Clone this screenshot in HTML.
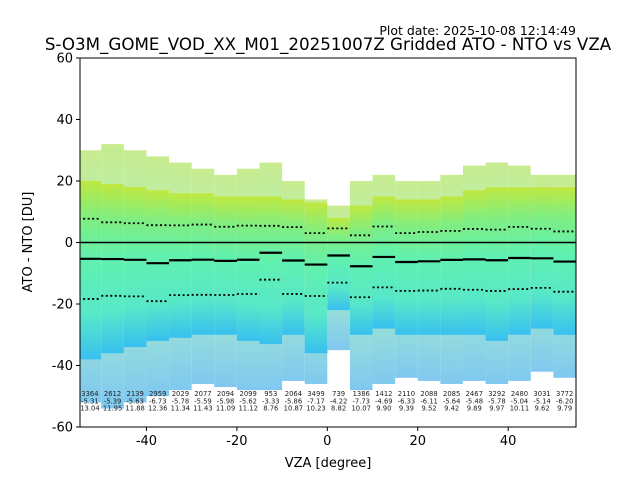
<!DOCTYPE html>
<html><head><meta charset="utf-8"><style>
body{margin:0;background:#fff;font-family:"Liberation Sans","DejaVu Sans",sans-serif}
svg text{font-family:"DejaVu Sans","Liberation Sans",sans-serif}
</style></head><body>
<svg id="chart" width="640" height="480" xmlns="http://www.w3.org/2000/svg">
<defs>
<linearGradient id="cloud" x1="0" y1="0" x2="0" y2="1">
<stop offset="0" stop-color="#c0e840"/><stop offset="0.2" stop-color="#80ee80"/><stop offset="0.45" stop-color="#60f0b0"/><stop offset="0.75" stop-color="#58e8c8"/><stop offset="1" stop-color="#38c0f0"/>
</linearGradient>
<linearGradient id="sparse" x1="0" y1="0" x2="0" y2="1">
<stop offset="0" stop-color="#c8ec90"/><stop offset="0.5" stop-color="#a8f0c8"/><stop offset="1" stop-color="#80c8f0"/>
</linearGradient>
</defs>
<text x="576" y="35" font-size="12.5" text-anchor="end">Plot date: 2025-10-08 12:14:49</text>
<text x="328" y="50" font-size="16.7" text-anchor="middle">S-O3M_GOME_VOD_XX_M01_20251007Z Gridded ATO - NTO vs VZA</text>
<g id="plot"></g>
<text x="328" y="467" font-size="13" text-anchor="middle">VZA [degree]</text>
<text transform="translate(32,242) rotate(-90)" font-size="13" text-anchor="middle">ATO - NTO [DU]</text>
</svg>
<script>
const binStarts=[-55,-50,-45,-40,-35,-30,-25,-20,-15,-10,-5,0,5,10,15,20,25,30,35,40,45,50];
const counts=[3364,2612,2139,2959,2029,2077,2094,2099,953,2064,3499,739,1386,1412,2110,2088,2085,2467,3292,2480,3031,3772];
const means=[-5.31,-5.39,-5.63,-6.73,-5.78,-5.59,-5.98,-5.62,-3.33,-5.86,-7.17,-4.22,-7.73,-4.69,-6.33,-6.11,-5.64,-5.48,-5.78,-5.04,-5.14,-6.20];
const stds=[13.04,11.95,11.88,12.36,11.34,11.43,11.09,11.12,8.76,10.87,10.23,8.82,10.07,9.90,9.39,9.52,9.42,9.89,9.97,10.11,9.62,9.79];
const denseTop=[20,19,18,17,16,16,15,15,15,14,13,8,12,15,14,14,15,17,18,18,18,18];
const denseBot=[-38,-36,-34,-32,-31,-30,-30,-32,-33,-30,-36,-22,-30,-28,-30,-30,-30,-30,-32,-30,-28,-30];
const sparseTop=[30,32,30,28,26,24,22,24,26,20,14,12,20,22,20,20,22,25,26,25,22,22];
const sparseBot=[-52,-54,-52,-50,-48,-46,-47,-48,-48,-45,-46,-35,-48,-46,-44,-45,-46,-45,-46,-45,-42,-44];
const yTicks=[-60,-40,-20,0,20,40,60];
const xTicks=[-40,-20,0,20,40];
const L=80,R=576,T=58,B=427,XMIN=-54.7,XMAX=55,YMIN=-60,YMAX=60;
const X=v=>L+(v-XMIN)/(XMAX-XMIN)*(R-L);
const Y=v=>B-(v-YMIN)/(YMAX-YMIN)*(B-T);
const NS='http://www.w3.org/2000/svg';
const g=document.getElementById('plot');
function mk(t,a,p){const e=document.createElementNS(NS,t);for(const k in a)e.setAttribute(k,a[k]);(p||g).appendChild(e);return e;}
const clip=mk('clipPath',{id:'pc'});mk('rect',{x:L,y:T,width:R-L,height:B-T},clip);
const cg=mk('g',{'clip-path':'url(#pc)'});
binStarts.forEach((s,i)=>{
  const x0=X(s),x1=X(s+5);
  const sp=mk('rect',{x:x0,y:Y(sparseTop[i]),width:x1-x0,height:Y(sparseBot[i])-Y(sparseTop[i]),fill:'url(#sparse)'},cg);
  
  
  const d=mk('rect',{x:x0,y:Y(denseTop[i]),width:x1-x0,height:Y(denseBot[i])-Y(denseTop[i]),fill:'url(#cloud)'},cg);
  
  
});
const z=mk('line',{x1:L,x2:R,y1:Y(0),y2:Y(0),stroke:'#000','stroke-width':1.5},cg);


binStarts.forEach((s,i)=>{
  const x0=X(s),x1=X(s+5),xc=X(s+2.5);
  const m=mk('line',{x1:x0,x2:x1,y1:Y(means[i]),y2:Y(means[i]),stroke:'#000','stroke-width':2.2},cg);
  
  
  [means[i]+stds[i],means[i]-stds[i]].forEach(v=>{
    const d=mk('line',{x1:x0,x2:x1,y1:Y(v),y2:Y(v),stroke:'#000','stroke-width':1.8,'stroke-dasharray':'2,2.5'},cg);
    
    
  });
  [counts[i],means[i].toFixed(2),stds[i].toFixed(2)].forEach((t,j)=>{
    const tx=mk('text',{x:xc,y:396+j*7.3,'font-size':6.8,'text-anchor':'middle',fill:'#222'},cg);
    tx.textContent=t;
    
    
  });
});
const fr=mk('rect',{x:L,y:T,width:R-L,height:B-T,fill:'none',stroke:'#000','stroke-width':1});


yTicks.forEach(v=>{
  mk('line',{x1:L-4,x2:L,y1:Y(v),y2:Y(v),stroke:'#000'});
  const t=mk('text',{x:L-7,y:Y(v)+4.5,'font-size':13,'text-anchor':'end'});t.textContent=v;
  
  
});
xTicks.forEach(v=>{
  mk('line',{x1:X(v),x2:X(v),y1:B,y2:B+4,stroke:'#000'});
  const t=mk('text',{x:X(v),y:B+18,'font-size':13,'text-anchor':'middle'});t.textContent=v;
  
  
});
</script>
</body></html>
